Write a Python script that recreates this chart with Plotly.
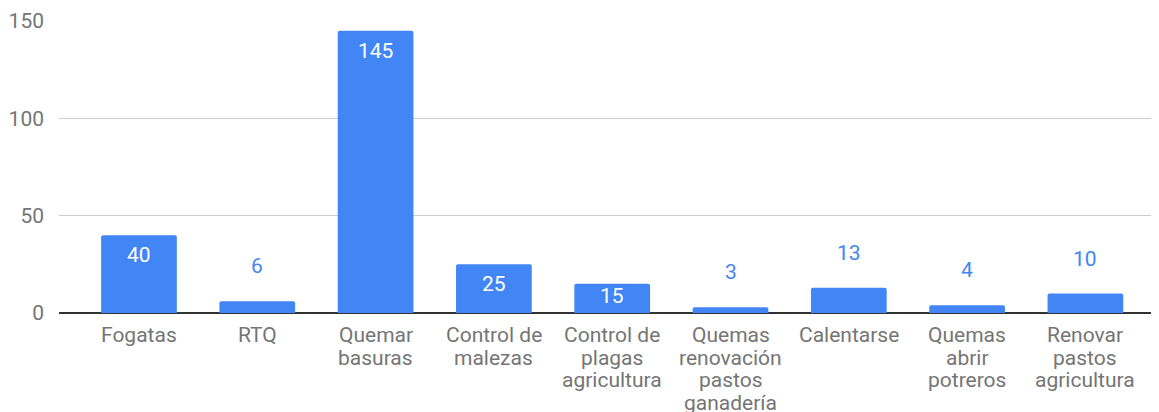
import plotly.graph_objects as go

categories = ["Fogatas", "RTQ", "Quemar<br>basuras", "Control de<br>malezas",
              "Control de<br>plagas<br>agricultura", "Quemas<br>renovación<br>pastos<br>ganadería",
              "Calentarse", "Quemas<br>abrir<br>potreros", "Renovar<br>pastos<br>agricultura"]
values = [40, 6, 145, 25, 15, 3, 13, 4, 10]
y_ticks = [0, 50, 100, 150]

BLUE = "#4285F4"
GREY = "#757575"
FONT = "Roboto"
FS = 21

# page body has an 8px default margin; size the figure so it fills the 1159x412 window
W, H = 1151, 404
M_L, M_T, M_B = 51, 13, 99
Y_MAX = 150
px_per_unit = (H - M_T - M_B) / Y_MAX

x_idx = list(range(len(categories)))

fig = go.Figure()
fig.add_trace(go.Bar(
    x=x_idx, y=values, width=0.64,
    marker=dict(color=BLUE, cornerradius=2, line=dict(width=0)),
    hoverinfo="skip",
))

annotations = []
for i, (cat, v) in enumerate(zip(categories, values)):
    inside = v >= 15
    bar_px = v * px_per_unit
    shift = -min(20, bar_px / 2 - 2) if inside else 35
    annotations.append(dict(
        x=i, y=v, xref="x", yref="y", text=str(v), showarrow=False,
        yanchor="middle", yshift=shift,
        font=dict(family=FONT, size=FS, color="white" if inside else BLUE),
    ))
    for k, line in enumerate(cat.split("<br>")):
        annotations.append(dict(
            x=i, y=0, xref="x", yref="y", text=line, showarrow=False,
            yanchor="middle", yshift=-22 - 22.5 * k,
            font=dict(family=FONT, size=FS, color=GREY),
        ))

fig.update_layout(
    width=W, height=H,
    margin=dict(l=M_L, r=0, t=M_T, b=M_B),
    plot_bgcolor="white", paper_bgcolor="white",
    showlegend=False,
    font=dict(family=FONT, size=FS, color=GREY),
    annotations=annotations,
    xaxis=dict(range=[-0.676, 8.622], showticklabels=False, showgrid=False,
               zeroline=False, ticks="", fixedrange=True),
    yaxis=dict(range=[0, Y_MAX], tickvals=y_ticks, showgrid=True, gridcolor="#cccccc",
               gridwidth=1, zeroline=True, zerolinecolor="#333333", zerolinewidth=1.5,
               ticks="", ticklabelstandoff=14,
               tickfont=dict(family=FONT, size=FS, color=GREY)),
)

fig.write_html("out.html")
